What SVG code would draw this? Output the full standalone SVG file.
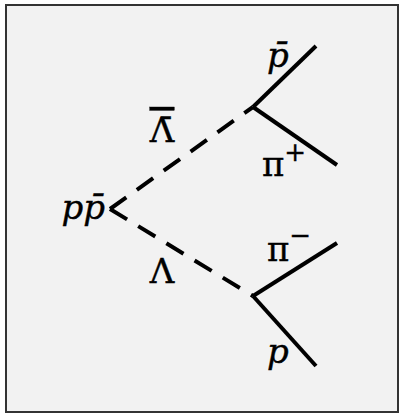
<svg xmlns="http://www.w3.org/2000/svg" width="399" height="413" viewBox="0 0 399 413">
<style>
.frame{fill:#f2f2f2;stroke:#333;stroke-width:2}
.lbl{font-family:"DejaVu Serif","Liberation Serif",serif;font-size:34px;fill:#000;stroke:#000;stroke-width:0.4}
.it{font-style:italic}
.ov{text-decoration:overline}
.sup{font-size:26px}
.solid{stroke:#000;stroke-width:4;fill:none}
.dash{stroke:#000;stroke-width:4;fill:none;stroke-dasharray:20 13}
</style>
<rect class="frame" x="6" y="5" width="392" height="407"/>
<g id="connectors">
<line class="dash" x1="110" y1="209" x2="253" y2="107"/>
<line class="dash" x1="110" y1="209" x2="253" y2="296"/>
<line class="solid" x1="253" y1="107" x2="316" y2="46"/>
<line class="solid" x1="253" y1="107" x2="337" y2="165"/>
<line class="solid" x1="253" y1="296" x2="337" y2="243"/>
<line class="solid" x1="253" y1="296" x2="316" y2="366"/>
</g>
<g id="ppbar"><text class="lbl it" x="105" y="219" text-anchor="end">pp̄</text></g>
<g id="lambdabar"><text class="lbl ov" x="162" y="142" text-anchor="middle">Λ̄</text></g>
<g id="lambda"><text class="lbl" x="162" y="283" text-anchor="middle">Λ</text></g>
<g id="pbar"><text class="lbl it" x="267" y="67">p̄</text></g>
<g id="piplus"><text class="lbl" x="262" y="176">π<tspan class="sup" dy="-15">+</tspan></text></g>
<g id="piminus"><text class="lbl" x="267" y="261">π<tspan class="sup" dy="-17">−</tspan></text></g>
<g id="p"><text class="lbl it" x="267" y="363">p</text></g>
</svg>
